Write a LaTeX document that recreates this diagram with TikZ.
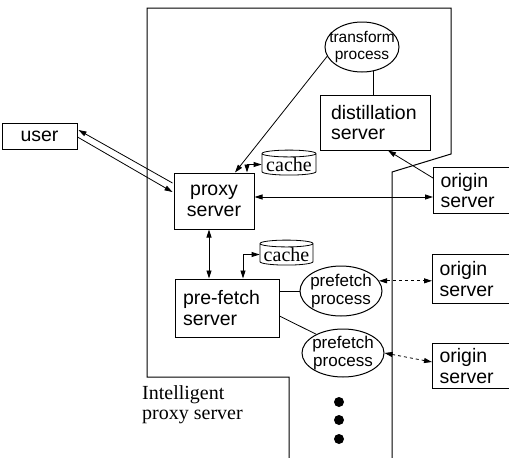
\documentclass[tikz,border=0pt]{standalone}
\usepackage{fontspec}
\setmainfont{Liberation Serif}
\setsansfont{Liberation Sans}
\usetikzlibrary{shapes.geometric,arrows.meta}
\begin{document}
\begin{tikzpicture}[x=1pt,y=-1pt,
  >={Triangle[length=8pt,width=5pt]},
  box/.style={draw, line width=1pt, font=\sffamily\fontsize{19.5}{20.5}\selectfont, inner sep=0pt, align=center},
  lbox/.style={box, align=left},
  proc/.style={ellipse, draw, line width=1pt, inner xsep=-5pt, inner ysep=-4pt, align=center, font=\sffamily\fontsize{17}{17.5}\selectfont},
  db/.style={cylinder, shape border rotate=90, aspect=0.15, draw, line width=0.8pt, inner sep=0pt, font=\rmfamily\fontsize{20}{20}\selectfont},
  conn/.style={line width=0.8pt},
  dconn/.style={line width=0.8pt, dash pattern=on 3pt off 3pt}]
\useasboundingbox (0,0) rectangle (509,458);
% outline of the intelligent proxy server
\draw[line width=1pt] (392,470) -- (392,172) -- (451,154) -- (451,8) -- (147,8) -- (147,377) -- (289,377) -- (289,470);
\node[anchor=north west, align=left, inner sep=0pt, font=\rmfamily\fontsize{20}{20}\selectfont] (lbl) at (142,385) {Intelligent\\proxy server};
% nodes
\node[box, minimum width=75, minimum height=26] (user) at (39.5,136) {user};
\node[box, minimum width=80, minimum height=56] (proxy) at (214,201) {proxy\\server};
\node[lbox, text width=88, inner xsep=11, minimum height=55] (distill) at (375,122.5) {distillation\\server};
\node[lbox, text width=88, inner xsep=8, minimum height=58] (pfs) at (227,308) {pre-fetch\\server};
\node[lbox, anchor=north west, text width=66, inner xsep=7, minimum height=46] (o1) at (433,167) {origin\\server};
\node[lbox, anchor=north west, text width=66, inner xsep=7, minimum height=49] (o2) at (432,254) {origin\\server};
\node[lbox, anchor=north west, text width=66, inner xsep=7, minimum height=45] (o3) at (432,343) {origin\\server};
\node[db, minimum width=54, minimum height=25] (c1) at (289,164.5) {cache};
\node[db, minimum width=53, minimum height=25] (c2) at (286.5,254.5) {cache};
\node[proc, font=\sffamily\fontsize{15.5}{16.5}\selectfont, inner xsep=-9pt, inner ysep=-5pt, minimum width=74, minimum height=50] (trans) at (362,47) {transform\\process};
\node[proc, minimum width=82, minimum height=50] (pf1) at (341,291) {prefetch\\process};
\node[proc, minimum width=82, minimum height=48] (pf2) at (343,353) {prefetch\\process};
% dots
\fill (339,402) circle (5);
\fill (339,420) circle (5);
\fill (339,439) circle (5);
% connectors
\draw[conn, <-] ([shift={(1,-6)}]user.east) -- ([shift={(-1,-18)}]proxy.west);
\draw[conn, ->] ([shift={(0,1)}]user.east) -- ([shift={(-1,-9)}]proxy.west);
\draw[conn, ->] (trans.195) -- ([shift={(21,0)}]proxy.north);
\draw[conn] (trans.-65) -- (trans.-65 |- distill.north);
\draw[conn, <->] ([shift={(33,0)}]proxy.north) |- (c1.west);
\draw[conn, ->] ([shift={(0,11)}]o1.north west) -- ([shift={(13,0)}]distill.south);
\draw[conn, <->] ([shift={(0,-4)}]proxy.east) -- ([shift={(0,-4)}]proxy.east -| o1.west);
\draw[conn, <->] ([shift={(-5,0)}]proxy.south) -- ([shift={(-5,0)}]proxy.south |- pfs.north);
\draw[conn, <->] ([shift={(16,0)}]pfs.north) |- (c2.west);
\draw[conn] ([shift={(0,-17)}]pfs.east) -- (pf1.west);
\draw[conn] ([shift={(0,8)}]pfs.east) -- (pf2.145);
\draw[dconn, <->] (pf1.15) -- (pf1.15 -| o2.west);
\draw[dconn, <->] (pf2.east) -- ([shift={(0,-4)}]o3.west);
\end{tikzpicture}
\end{document}
